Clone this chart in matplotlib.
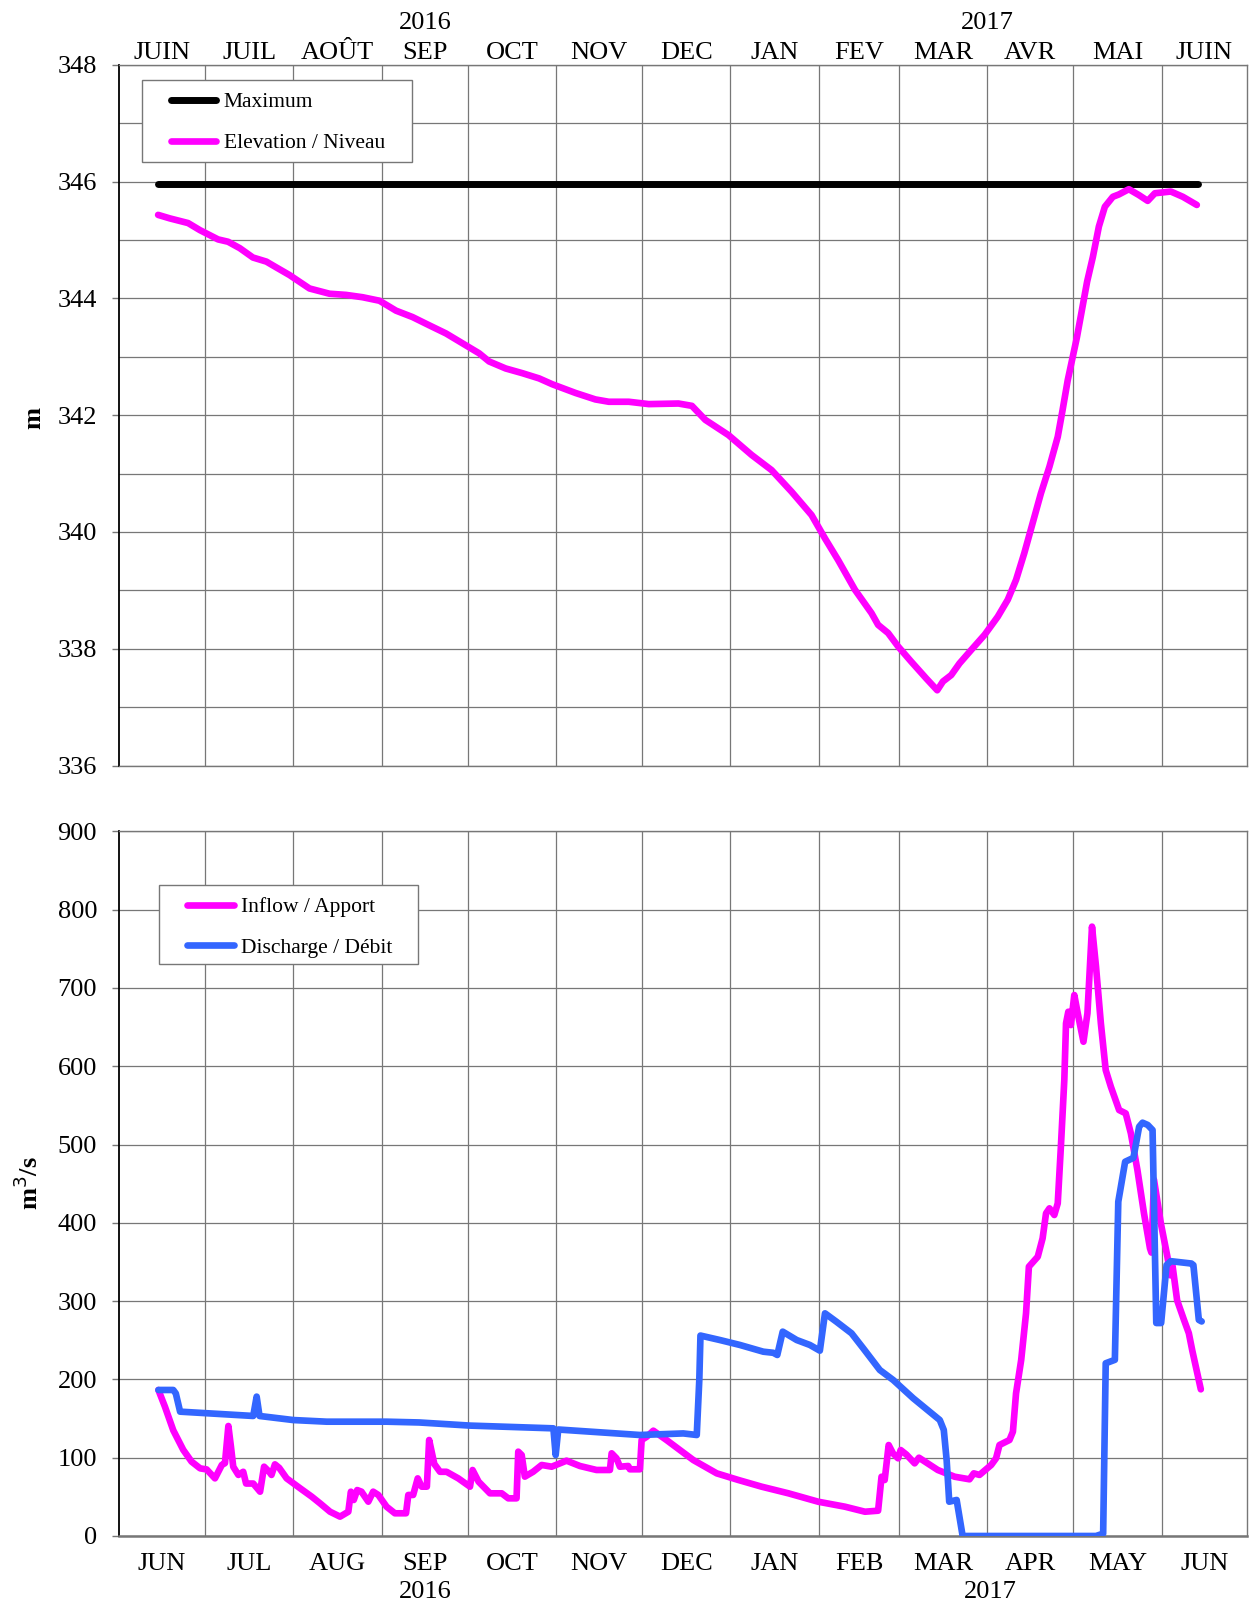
import numpy as np
import matplotlib
matplotlib.use('Agg')
import matplotlib.pyplot as plt
from matplotlib.patches import Rectangle
import matplotlib.transforms as mtransforms

plt.rcParams['font.family'] = ['Liberation Serif', 'DejaVu Serif']

# Datos (dias desde 2016-06-01)
# Nivel del embalse (m)
dia_niv = [13.6, 17.7, 24.1, 28.2, 34.6, 38.1, 42.2, 46.8, 51.5, 55.0, 59.6, 66.6, 73.6, 79.4,
           85.2, 91.1, 96.9, 102.7, 108.5, 114.4, 120.2, 126.0, 129.5, 135.3, 141.1, 147.0,
           151.6, 159.8, 166.7, 171.4, 178.4, 185.4, 195.8, 200.5, 205.2, 213.3, 221.4, 228.4,
           235.4, 242.4, 247.1, 251.7, 257.6, 263.4, 265.7, 269.2, 272.7, 277.3, 282.6, 286.4,
           288.4, 291.3, 294.2, 298.3, 303.0, 307.6, 311.1, 314.0, 316.9, 319.8, 322.7, 325.7,
           328.6, 330.3, 332.1, 335.3, 338.9, 340.9, 343.0, 345.1, 347.9, 350.0, 353.5, 357.0,
           360.1, 362.6, 368.2, 372.4, 377.3]
nivel = [345.43, 345.37, 345.29, 345.17, 345.01, 344.97, 344.86, 344.70, 344.63, 344.53, 344.40,
         344.17, 344.08, 344.06, 344.02, 343.96, 343.79, 343.68, 343.54, 343.40, 343.23, 343.06,
         342.92, 342.80, 342.72, 342.63, 342.53, 342.38, 342.27, 342.23, 342.23, 342.19, 342.20,
         342.16, 341.92, 341.66, 341.32, 341.06, 340.69, 340.29, 339.89, 339.52, 339.01, 338.61,
         338.41, 338.27, 338.04, 337.78, 337.49, 337.29, 337.44, 337.55, 337.75, 337.98, 338.24,
         338.55, 338.84, 339.18, 339.64, 340.15, 340.66, 341.12, 341.63, 342.09, 342.60, 343.33,
         344.29, 344.71, 345.23, 345.57, 345.74, 345.78, 345.87, 345.77, 345.67, 345.80, 345.83,
         345.74, 345.60]
dia_max = [13.6, 377.7]
nivel_max = [345.96, 345.96]

# Caudal de entrada (m3/s)
dia_apo = [13.7, 16.0, 18.9, 22.4, 25.3, 28.3, 30.6, 33.5, 35.9, 37.0, 38.2, 39.1, 39.9, 41.7,
           43.4, 44.4, 46.9, 49.3, 50.7, 52.5, 53.3, 54.5, 56.0, 58.6, 63.3, 67.4, 70.3, 73.8,
           77.3, 80.2, 81.1, 82.1, 83.3, 84.8, 87.2, 88.9, 90.7, 93.6, 96.5, 100.4, 101.2, 102.9,
           104.5, 105.9, 107.7, 108.5, 110.3, 112.3, 114.6, 118.7, 122.8, 123.7, 125.8, 129.8,
           133.9, 136.2, 139.1, 139.7, 140.9, 142.0, 144.9, 147.9, 151.4, 156.6, 161.3, 167.1,
           171.8, 172.4, 174.1, 175.3, 178.2, 178.8, 182.3, 182.9, 184.7, 187.0, 191.6, 201.0,
           209.2, 216.8, 224.9, 234.3, 244.7, 254.1, 261.1, 265.7, 266.9, 268.0, 269.4, 270.9,
           272.7, 273.6, 275.6, 278.5, 280.0, 286.6, 292.5, 297.7, 299.2, 301.2, 305.3, 307.0,
           308.2, 311.7, 312.9, 314.0, 315.8, 317.5, 318.5, 321.6, 323.3, 324.5, 325.7, 327.4,
           328.6, 329.7, 330.9, 331.5, 332.3, 333.2, 334.4, 335.6, 337.6, 339.0, 340.6, 342.0,
           343.7, 345.4, 347.2, 350.1, 352.4, 354.2, 356.5, 358.8, 360.9, 361.4, 362.3, 364.7,
           367.0, 368.0, 368.8, 370.4, 372.8, 374.5, 375.7, 378.7]
apo = [186.5, 165, 135, 110, 95, 86.4, 85, 73.6, 90.7, 93, 140.5, 114, 88.5, 78,
       82, 67, 67, 56.6, 88.5, 82, 78, 91.5, 87, 73.6, 61, 50.2, 41.7, 31,
       24.7, 31, 56.6, 46, 58.7, 56.6, 43.8, 56.6, 52.4, 37.4, 29, 29, 52.4, 52.4,
       73.6, 63, 63, 122.6, 92, 82, 82, 73.6, 63, 84.3, 69.4, 54.5,
       54.5, 48.1, 48.1, 107.7, 103.4, 75.8, 82, 90.7, 88.5, 96.2, 89.4, 84.3,
       84.3, 105.6, 99.2, 88.5, 89.4, 85.2, 85.2, 122.6, 126.8, 134.5, 122.6, 97,
       80, 71.5, 63, 54.5, 43.8, 37.4, 31, 32.3, 75.7, 71.5, 116.2, 105.6,
       99.2, 109.8, 104, 92.8, 100, 84.3, 75.7, 72.4, 80, 78, 90.7, 99.2,
       116.2, 122.6, 133.2, 182.2, 224.8, 284.4, 344, 356.7, 380.2, 412.1, 418.5, 410,
       424.9, 497.2, 582.4, 654.8, 669.6, 652.6, 690.9, 667.6, 631.3, 667.6, 778.3, 727.2,
       654.8, 595.1, 573.8, 544, 539.8, 514.3, 467.4, 412.1, 367.4, 362, 455, 399.4,
       356.7, 333, 345, 301, 276, 259, 237, 187.3]

# Caudal de descarga (m3/s)
dia_deb = [13.7, 18.9, 19.8, 21.3, 46.9, 48.1, 49.1, 60.9, 72.6, 93.6, 105.0, 122.8, 152.0,
           152.8, 153.7, 182.3, 197.5, 202.2, 203.1, 203.5, 210.3, 217.3, 225.5, 229.0, 230.4,
           232.3, 237.2, 241.8, 245.3, 247.1, 251.1, 256.4, 260.5, 266.3, 271.0, 278.0, 287.3,
           288.7, 289.7, 290.6, 293.2, 295.3, 342.0, 344.5, 345.4, 348.6, 349.8, 352.2, 355.1,
           357.1, 358.3, 360.1, 361.8, 363.1, 364.8, 366.7, 368.2, 375.4, 376.1, 378.0, 379.0]
deb = [186.5, 186.5, 182, 158.8, 153.3, 178, 153.3, 148.1, 146, 146, 145, 141, 137.5,
       103.4, 136, 129, 131, 129, 200, 256, 250.3, 244, 235.4, 234, 231.2,
       261, 250.3, 244, 236.7, 284.4, 273.7, 258.9, 239.7, 212, 199.2, 175.9, 148.1,
       135.4, 97, 43.8, 46, 0, 0, 3, 220.6, 225, 427, 478, 483,
       522.8, 527.9, 525, 518.5, 272, 272, 346, 351, 348, 346, 276, 274]

# Etiquetas de los meses
mois_fr = ['JUIN', 'JUIL', 'AOÛT', 'SEP', 'OCT', 'NOV', 'DEC', 'JAN', 'FEV', 'MAR', 'AVR', 'MAI', 'JUIN']
mois_en = ['JUN', 'JUL', 'AUG', 'SEP', 'OCT', 'NOV', 'DEC', 'JAN', 'FEB', 'MAR', 'APR', 'MAY', 'JUN']

rosa = '#FF00FF'
azul = '#3366FF'
gris = '#777777'

t0 = np.datetime64('2016-06-01T00:00')


def fecha(dias):
    # dias (float) -> datetime64
    return t0 + (np.array(dias) * 1440).astype('int64').astype('timedelta64[m]')


inicio_mes = np.arange('2016-06', '2017-08', dtype='datetime64[M]').astype('datetime64[m]')
medio_mes = inicio_mes[:-1] + (inicio_mes[1:] - inicio_mes[:-1]) / 2

fig = plt.figure(figsize=(12.49, 16.04), dpi=100)
ax1 = fig.add_axes([0.0955, 0.5227, 0.9032, 0.4369])
ax2 = fig.add_axes([0.0955, 0.0424, 0.9032, 0.4393])


def preparar(ax):
    ax.set_xlim(inicio_mes[0], inicio_mes[-1])
    ax.set_xticks(inicio_mes[1:-1])
    ax.xaxis.grid(True, which='major', color=gris, lw=0.9)
    ax.yaxis.grid(True, which='both', color=gris, lw=0.9)
    ax.set_axisbelow(True)
    for s in ax.spines.values():
        s.set_color(gris)
        s.set_linewidth(1.0)
    ax.spines['left'].set_color('black')
    ax.spines['left'].set_linewidth(1.3)
    ax.tick_params(axis='x', which='both', length=0, labelsize=19)
    ax.tick_params(axis='y', which='major', length=5, width=1, color=gris, labelsize=19, pad=11)
    ax.tick_params(axis='y', which='minor', length=0)


# Panel superior: nivel
preparar(ax1)
ax1.set_ylim(336, 348)
ax1.set_yticks(np.arange(336, 349, 2))
ax1.set_yticks(np.arange(337, 348, 2), minor=True)
ax1.set_xticks(medio_mes, mois_fr, minor=True)
ax1.tick_params(axis='x', which='both', top=True, bottom=False, labeltop=True, labelbottom=False, pad=0.5)
ax1.tick_params(axis='x', which='major', labeltop=False)
ax1.plot(fecha(dia_max), nivel_max, color='black', lw=5, solid_capstyle='round', label='Maximum', zorder=3)
ax1.plot(fecha(dia_niv), nivel, color=rosa, lw=4.8, solid_capstyle='round', solid_joinstyle='round',
         label='Elevation / Niveau', zorder=3)
trans1 = mtransforms.blended_transform_factory(ax1.transData, ax1.transAxes)
ax1.text(np.datetime64('2016-09-16'), 1.0507, '2016', transform=trans1, ha='center', va='baseline', fontsize=19)
ax1.text(np.datetime64('2017-04-01'), 1.0507, '2017', transform=trans1, ha='center', va='baseline', fontsize=19)
fig.text(34 / 1249, 1 - 418 / 1604, 'm', rotation=90, ha='center', va='center', fontsize=19, fontweight='bold')

ax1.add_patch(Rectangle((0.0204, 0.8617), 0.2393, 0.1166, transform=ax1.transAxes,
                        facecolor='white', edgecolor=gris, lw=1, zorder=5))
leg1 = ax1.legend(loc='center left', bbox_to_anchor=(0.0458, 0.9175), frameon=False, fontsize=15.5,
                  borderpad=0, borderaxespad=0, handlelength=2.1, handletextpad=0.35, labelspacing=0.98)
leg1.set_zorder(6)

# Panel inferior: caudales
preparar(ax2)
ax2.set_ylim(0, 900)
ax2.set_yticks(np.arange(0, 901, 100))
ax2.set_xticks(medio_mes, mois_en, minor=True)
ax2.tick_params(axis='x', which='minor', pad=12.5)
ax2.tick_params(axis='x', which='major', labelbottom=False)
ax2.spines['bottom'].set_linewidth(1.8)
ax2.plot(fecha(dia_apo), apo, color=rosa, lw=4.8, solid_capstyle='round', solid_joinstyle='round',
         label='Inflow / Apport', zorder=3)
ax2.plot(fecha(dia_deb), deb, color=azul, lw=4.8, solid_capstyle='round', solid_joinstyle='round',
         label='Discharge / Débit', zorder=3)
trans2 = mtransforms.blended_transform_factory(ax2.transData, ax2.transAxes)
ax2.text(np.datetime64('2016-09-16'), -0.0884, '2016', transform=trans2, ha='center', va='baseline', fontsize=19)
ax2.text(np.datetime64('2017-04-02'), -0.0884, '2017', transform=trans2, ha='center', va='baseline', fontsize=19)
fig.text(29 / 1249, 1 - 1183 / 1604, 'm$^3$/s', rotation=90, ha='center', va='center', fontsize=19, fontweight='bold')

ax2.add_patch(Rectangle((0.0348, 0.8121), 0.2303, 0.1117, transform=ax2.transAxes,
                        facecolor='white', edgecolor=gris, lw=1, zorder=5))
leg2 = ax2.legend(loc='center left', bbox_to_anchor=(0.060, 0.8636), frameon=False, fontsize=15.5,
                  borderpad=0, borderaxespad=0, handlelength=2.2, handletextpad=0.3, labelspacing=0.95)
leg2.set_zorder(6)

plt.savefig('out.png', dpi=100)
plt.close()
